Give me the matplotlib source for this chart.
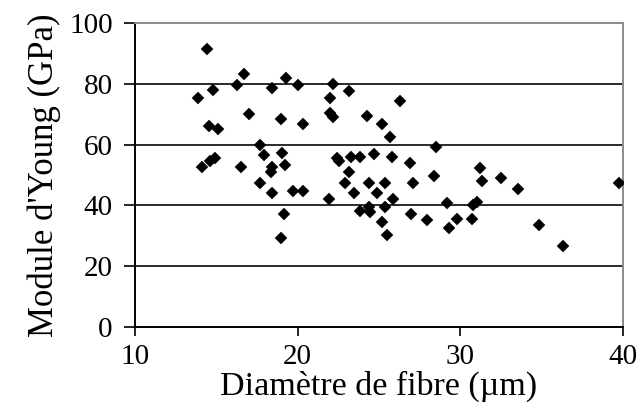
import matplotlib
matplotlib.use('Agg')
import matplotlib.pyplot as plt

# diamètre de fibre (µm) et module d'Young (GPa)
diametre = [13.9, 14.1, 14.4, 14.55, 14.6, 14.8, 14.9, 15.1, 16.3, 16.5,
            16.7, 17.0, 17.7, 17.7, 17.95, 18.4, 18.4, 18.35, 18.4, 19.0,
            19.05, 19.2, 19.15, 19.0, 19.3, 19.7, 20.0, 20.3, 20.35, 21.9,
            22.0, 22.0, 22.2, 22.2, 22.4, 22.55, 22.9, 23.15, 23.15, 23.3,
            23.45, 23.8, 23.8, 24.25, 24.4, 24.4, 24.45, 24.7, 24.9, 25.2,
            25.37, 25.37, 25.16, 25.5, 25.67, 25.8, 25.84, 26.3, 26.9, 27.1,
            26.94, 27.95, 28.4, 28.5, 29.16, 29.77, 29.3, 30.7, 30.8, 31.0,
            31.2, 31.35, 32.47, 33.56, 34.83, 36.29, 39.75]
module = [75.2, 52.5, 91.4, 66.1, 54.5, 77.9, 55.5, 65.2, 79.5, 52.5,
          83.2, 70.1, 59.9, 47.5, 56.6, 78.7, 52.7, 51.1, 44.0, 68.5,
          57.3, 53.3, 37.2, 29.2, 82.1, 44.7, 79.6, 66.8, 44.7, 42.1,
          75.2, 70.5, 69.2, 79.9, 55.5, 54.7, 47.5, 77.7, 51.0, 56.0,
          44.2, 56.0, 38.2, 69.4, 47.5, 39.6, 37.9, 56.9, 44.2, 66.8,
          47.5, 39.6, 34.6, 30.4, 62.6, 56.0, 42.0, 74.4, 54.0, 47.5,
          37.2, 35.3, 49.8, 59.3, 40.7, 35.4, 32.6, 35.4, 40.2, 41.2,
          52.4, 47.9, 48.9, 45.4, 33.6, 26.6, 47.3]

x_ticks = [10, 20, 30, 40]
y_ticks = [0, 20, 40, 60, 80, 100]

plt.rcParams['font.family'] = ['Liberation Serif', 'DejaVu Serif']

fig = plt.figure(figsize=(6.38, 4.18), dpi=100)
ax = fig.add_axes([0.2116, 0.2177, 0.765, 0.727])

for y in y_ticks[1:-1]:
    ax.axhline(y, color='#2a2a2a', lw=1.4, zorder=1)

ax.plot(diametre, module, linestyle='none', marker='D', ms=6.2,
        color='black', mec='black', mew=0.3, zorder=3)

ax.set_xlim(10, 40)
ax.set_ylim(0, 100)
ax.set_xticks(x_ticks)
ax.set_yticks(y_ticks)

for s in ['left', 'bottom']:
    ax.spines[s].set_color('black')
    ax.spines[s].set_linewidth(1.4)
for s in ['top', 'right']:
    ax.spines[s].set_color('#8a8a8a')
    ax.spines[s].set_linewidth(1.4)

ax.tick_params(axis='both', direction='out', width=1.2,
               labelsize=21, colors='black')
ax.tick_params(axis='y', length=8, pad=8)
ax.tick_params(axis='x', length=6.5, pad=6)

ax.set_xlabel('Diamètre de fibre (µm)', fontsize=24.5, labelpad=0)
ax.set_ylabel("Module d'Young (GPa)", fontsize=25, labelpad=6)

fig.savefig('out.png', dpi=100)
